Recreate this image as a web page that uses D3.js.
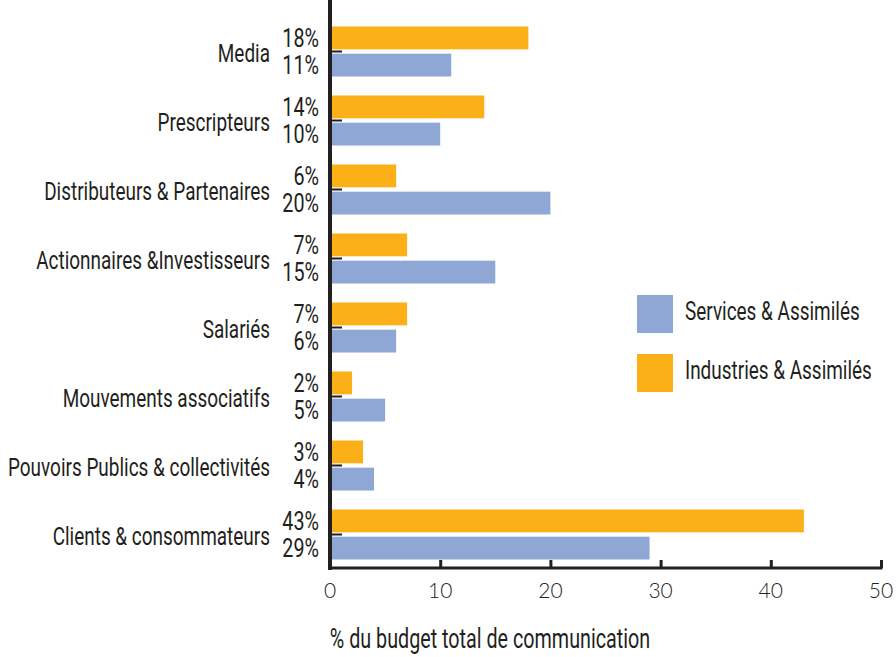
<!DOCTYPE html>
<html>
<head>
<meta charset="utf-8">
<script src="https://cdn.jsdelivr.net/npm/d3@7"></script>
<style>
  body { margin: 0; background: #fff; }
  svg text { font-family: "Roboto", "DejaVu Sans", sans-serif; fill: #231f20; }
  .tick-label { font-family: "Lato", "DejaVu Sans", sans-serif; font-weight: 300; }
</style>
</head>
<body>
<div id="chart"></div>
<script>
const categories = ['Media', 'Prescripteurs', 'Distributeurs & Partenaires', 'Actionnaires &Investisseurs',
                    'Salariés', 'Mouvements associatifs', 'Pouvoirs Publics & collectivités', 'Clients & consommateurs'];
const industries = [18, 14, 6, 7, 7, 2, 3, 43];
const services = [11, 10, 20, 15, 6, 5, 4, 29];
const seriesNames = ['Services & Assimilés', 'Industries & Assimilés'];
const xTicks = [0, 10, 20, 30, 40, 50];
const xTitle = '% du budget total de communication';

const w = 896;
const h = 657;
const colors = { services: '#8fa7d5', industries: '#fcb017' };

const svg = d3.select('#chart')
              .append('svg')
              .attr('width', w)
              .attr('height', h);

// the original uses a tall condensed face; squeeze Roboto horizontally to match
const probe = svg.append('text').style('font-size', '24px').text(categories[2]);
const k = 226 / probe.node().getComputedTextLength();
probe.remove();

// wSize: size whose width we keep, size: actual (taller) font size
const squeezed = (sel, x, y, wSize, size) =>
    sel.attr('transform', 'translate(' + x + ',' + y + ') scale(' + (k * wSize / size) + ',1)')
       .style('font-size', size + 'px');

const xScale = d3.scaleLinear()
                 .domain([0, 50])
                 .range([330, 881]);

const yScale = d3.scaleBand()
                 .domain(categories)
                 .range([17, 569])
                 .paddingInner(0.275)
                 .paddingOuter(0.1375);

const inner = d3.scaleBand()
                .domain(['industries', 'services'])
                .range([0, yScale.bandwidth()])
                .paddingInner(0.16);

const rows = categories.map((c, i) => ({ cat: c, industries: industries[i], services: services[i] }));

const groups = svg.selectAll('g.row')
                  .data(rows)
                  .enter()
                  .append('g')
                  .attr('class', 'row')
                  .attr('transform', d => 'translate(0,' + yScale(d.cat) + ')');

['industries', 'services'].forEach(key => {
    groups.append('rect')
          .attr('x', xScale(0) + 2)
          .attr('y', inner(key))
          .attr('width', d => xScale(d[key]) - xScale(0) - 2)
          .attr('height', inner.bandwidth())
          .attr('fill', colors[key]);

    groups.append('text')
          .call(squeezed, 319, inner(key) + inner.bandwidth() / 2, 25, 25)
          .attr('dy', '0.36em')
          .attr('text-anchor', 'end')
          .text(d => d[key] + '%');
});

// category labels
groups.append('text')
      .call(squeezed, 270, yScale.bandwidth() / 2 + 1, 24, 25.5)
      .attr('dy', '0.36em')
      .attr('text-anchor', 'end')
      .text(d => d.cat);

// y axis with small ticks between bars
const yAxis = d3.axisRight(yScale).tickSize(12).tickFormat('');
const yG = svg.append('g')
              .attr('transform', 'translate(' + xScale(0) + ',0)')
              .call(yAxis);
yG.select('.domain').remove();
yG.selectAll('line').attr('stroke', '#231f20').attr('stroke-width', 2);
svg.append('line')
   .attr('x1', xScale(0)).attr('x2', xScale(0))
   .attr('y1', 0).attr('y2', 570)
   .attr('stroke', '#231f20').attr('stroke-width', 4);

// x axis
const xAxis = d3.axisTop(xScale).tickValues(xTicks).tickSize(8).tickFormat('');
const xG = svg.append('g')
              .attr('transform', 'translate(0,568)')
              .call(xAxis);
xG.select('.domain').remove();
xG.selectAll('line').attr('stroke', '#231f20').attr('stroke-width', 3);
svg.append('line')
   .attr('x1', xScale(0) - 2).attr('x2', xScale(50) + 1.5)
   .attr('y1', 568).attr('y2', 568)
   .attr('stroke', '#231f20').attr('stroke-width', 3);

svg.selectAll('text.tick-label')
   .data(xTicks)
   .enter()
   .append('text')
   .attr('class', 'tick-label')
   .attr('x', d => xScale(d))
   .attr('y', 590)
   .attr('dy', '0.36em')
   .attr('text-anchor', 'middle')
   .style('font-size', '21px')
   .text(d => d);

svg.append('text')
   .call(squeezed, 490, 638, 25, 27)
   .attr('dy', '0.36em')
   .attr('text-anchor', 'middle')
   .text(xTitle);

// legend
const legend = svg.selectAll('g.legend')
                  .data([{ name: seriesNames[0], key: 'services' }, { name: seriesNames[1], key: 'industries' }])
                  .enter()
                  .append('g')
                  .attr('class', 'legend')
                  .attr('transform', (d, i) => 'translate(637,' + (295 + i * 59) + ')');
legend.append('rect')
      .attr('width', 36)
      .attr('height', 38)
      .attr('fill', d => colors[d.key]);
legend.append('text')
      .call(squeezed, 48, 16, 24, 25)
      .attr('dy', '0.36em')
      .text(d => d.name);
</script>
</body>
</html>
